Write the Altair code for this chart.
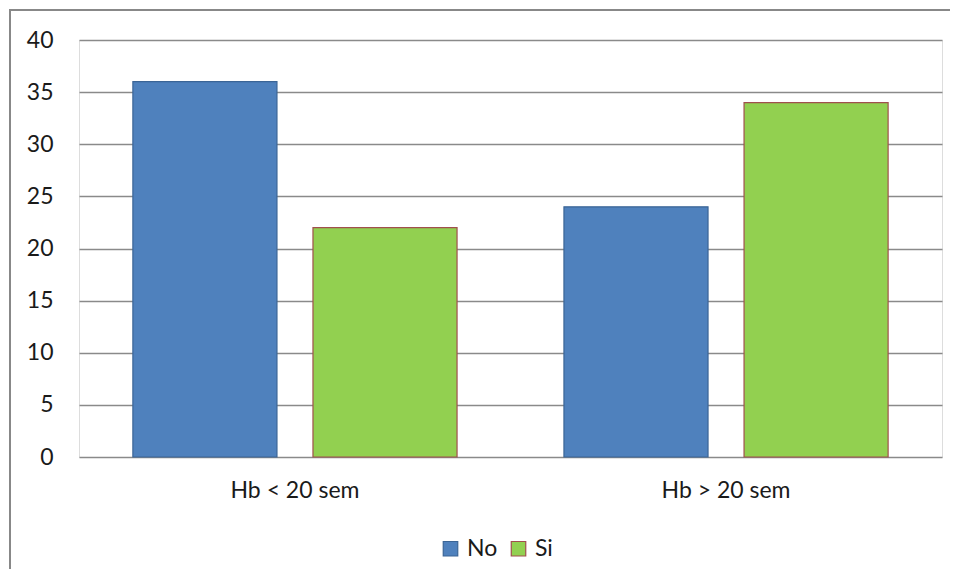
import altair as alt
import pandas as pd

categories = ["Hb < 20 sem", "Hb > 20 sem"]
series = ["No", "Si"]
no_values = [36, 24]
si_values = [22, 34]
fill_colors = ["#4f81bd", "#92d050"]
stroke_colors = ["#3b6596", "#a0504d"]
y_ticks = [0, 5, 10, 15, 20, 25, 30, 35, 40]

rows = []
for i, c in enumerate(categories):
    rows.append({"cat": c, "serie": "No", "value": no_values[i]})
    rows.append({"cat": c, "serie": "Si", "value": si_values[i]})
df = pd.DataFrame(rows)

W, H = 863, 417
PAD_R, PAD_B = 8, 112
FONT = "Lato"
FS = 23

legend = alt.Legend(
    title=None, orient="none", legendX=360, legendY=497, direction="horizontal",
    symbolType="square", symbolSize=210, symbolStrokeWidth=1.2,
    labelFontSize=FS, labelFont=FONT, labelColor="#1a1a1a",
    labelOffset=5, columnPadding=9,
)

bars = alt.Chart(df).mark_bar(strokeWidth=1.2).encode(
    x=alt.X("cat:N", sort=categories,
            scale=alt.Scale(paddingInner=0.248, paddingOuter=0.125),
            axis=alt.Axis(title=None, labelAngle=0, ticks=False, domain=False,
                          labelFontSize=FS, labelFont=FONT, labelColor="#1a1a1a",
                          labelPadding=22, grid=False)),
    xOffset=alt.XOffset("serie:N", sort=series,
                        scale=alt.Scale(paddingInner=0.2, paddingOuter=0)),
    y=alt.Y("value:Q", scale=alt.Scale(domain=[0, 40], nice=False),
            axis=alt.Axis(title=None, values=y_ticks, ticks=False, domain=False,
                          grid=True, gridColor="#8a8a8a", gridWidth=1.3,
                          labelFontSize=FS, labelFont=FONT, labelColor="#1a1a1a",
                          labelPadding=26)),
    color=alt.Color("serie:N", scale=alt.Scale(domain=series, range=fill_colors), legend=legend),
    stroke=alt.Stroke("serie:N", scale=alt.Scale(domain=series, range=stroke_colors), legend=legend),
)

frame = alt.Chart(pd.DataFrame({"a": [0]})).mark_rect(
    filled=False, stroke="#888888", strokeWidth=2
).encode(
    x=alt.value(-69), x2=alt.value(W + PAD_R + 20),
    y=alt.value(-30), y2=alt.value(H + PAD_B + 20),
)

chart = alt.layer(bars, frame).properties(
    width=W, height=H,
    autosize=alt.AutoSizeParams(type="none"),
    padding={"left": 71, "top": 32, "right": PAD_R, "bottom": PAD_B},
    background="white",
).configure_view(fill="#e6e6e6", stroke=None).configure(font=FONT)

chart.save("out.html", embed_options={"renderer": "svg", "actions": False})
